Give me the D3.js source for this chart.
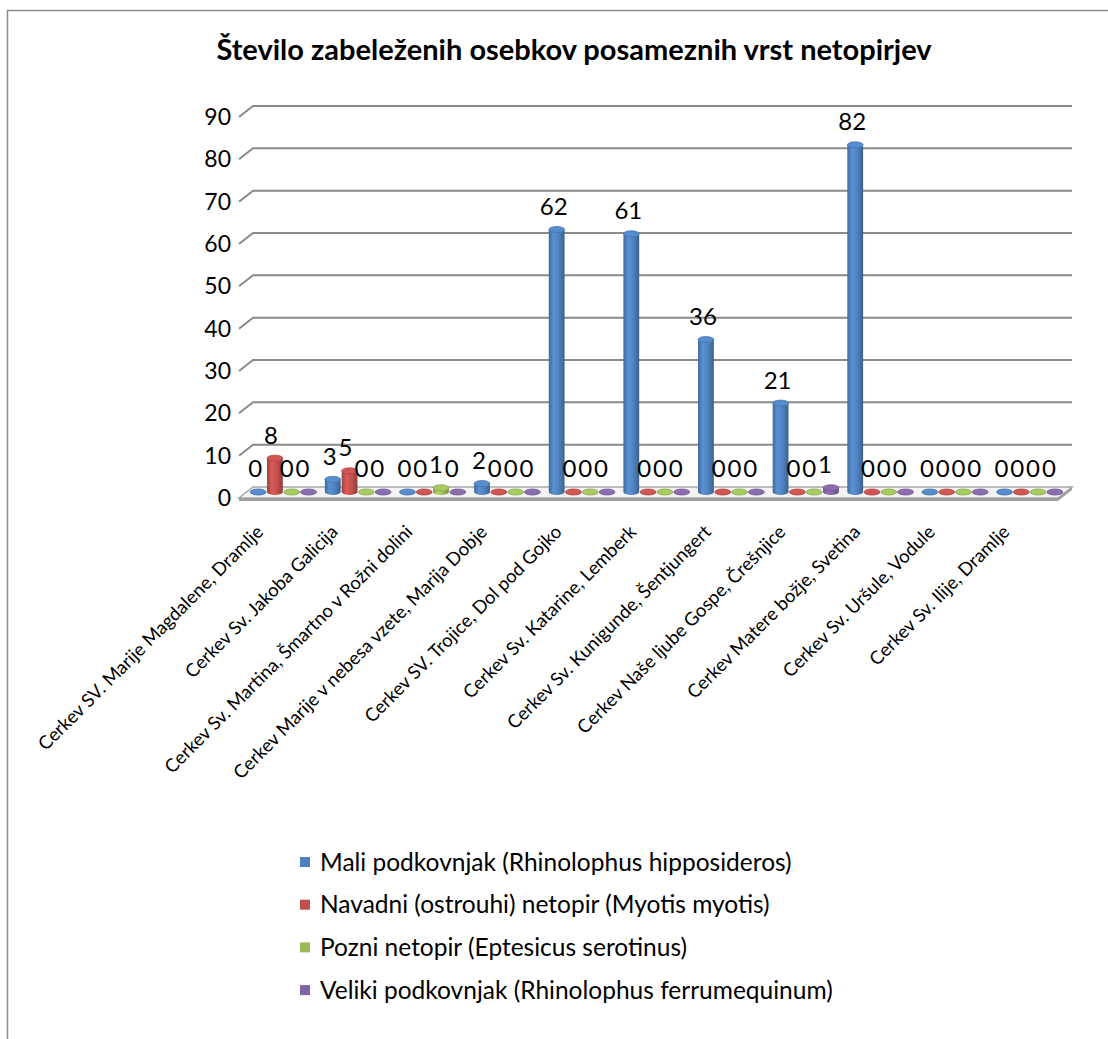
<!DOCTYPE html>
<html>
<head>
  <meta charset="utf-8">
  <title>Število zabeleženih osebkov posameznih vrst netopirjev</title>
  <script src="https://cdn.jsdelivr.net/npm/d3@7"></script>
  <style>
    body { margin: 0; background: #fff; }
    svg { display: block; font-family: Lato, "Open Sans", sans-serif; }
  </style>
</head>
<body>
  <div id="chart"></div>
  <script>
    // data
    var categories = [
      "Cerkev SV. Marije Magdalene, Dramlje",
      "Cerkev Sv. Jakoba Galicija",
      "Cerkev Sv. Martina, Šmartno v Rožni dolini",
      "Cerkev Marije v nebesa vzete, Marija Dobje",
      "Cerkev SV. Trojice, Dol pod Gojko",
      "Cerkev Sv. Katarine, Lemberk",
      "Cerkev Sv. Kunigunde, Šentjungert",
      "Cerkev Naše ljube Gospe, Črešnjice",
      "Cerkev Matere božje, Svetina",
      "Cerkev Sv. Uršule, Vodule",
      "Cerkev Sv. Ilije, Dramlje"
    ];
    var seriesNames = [
      "Mali podkovnjak (Rhinolophus hipposideros)",
      "Navadni (ostrouhi) netopir (Myotis myotis)",
      "Pozni netopir (Eptesicus serotinus)",
      "Veliki podkovnjak (Rhinolophus ferrumequinum)"
    ];
    var maliPodkovnjak   = [0, 3, 0, 2, 62, 61, 36, 21, 82, 0, 0];
    var navadniNetopir   = [8, 5, 0, 0, 0, 0, 0, 0, 0, 0, 0];
    var pozniNetopir     = [0, 0, 1, 0, 0, 0, 0, 0, 0, 0, 0];
    var velikiPodkovnjak = [0, 0, 0, 0, 0, 0, 0, 1, 0, 0, 0];
    var yTicks = [0, 10, 20, 30, 40, 50, 60, 70, 80, 90];
    var seriesColors = ["#4F81BD", "#C0504D", "#9BBB59", "#8064A2"];

    var seriesValues = [maliPodkovnjak, navadniNetopir, pozniNetopir, velikiPodkovnjak];

    var width = 1108, height = 1039;
    var depthX = 14, depthY = 11;   // fake 3d offset between back wall and front edge

    var svg = d3.select("#chart").append("svg")
      .attr("width", width)
      .attr("height", height);

    // outer chart frame (only left and top visible)
    svg.append("path")
      .attr("d", "M7.5,1039 L7.5,10.5 L1108,10.5")
      .attr("fill", "none")
      .attr("stroke", "#8c8c8c")
      .attr("stroke-width", 1.5);

    svg.append("text")
      .attr("x", 574)
      .attr("y", 60)
      .attr("text-anchor", "middle")
      .style("font-size", "29px")
      .style("font-weight", "bold")
      .text("Število zabeleženih osebkov posameznih vrst netopirjev");

    var x = d3.scaleBand()
      .domain(categories)
      .range([246, 1067])
      .paddingInner(0.1)
      .paddingOuter(0.05);

    var xs = d3.scaleBand()
      .domain(d3.range(seriesNames.length))
      .range([0, x.bandwidth()]);

    // back wall, bar base and front edge scales
    var yBack = d3.scaleLinear().domain([0, 90]).range([487, 106]);
    var yBar = d3.scaleLinear().domain([0, 90]).range([492, 111]);
    var yFront = d3.scaleLinear().domain([0, 90]).range([498, 117]);

    var wallLeft = 253, wallRight = 1072;

    // gridlines with small side-wall stroke
    var grid = svg.append("g").attr("class", "grid");
    grid.selectAll("path")
      .data(yTicks.slice(1))
      .enter().append("path")
      .attr("d", function (d) {
        var yb = yBack(d);
        return "M" + (wallLeft - depthX) + "," + (yb + depthY) + " L" + wallLeft + "," + yb + " L" + wallRight + "," + yb;
      })
      .attr("fill", "none")
      .attr("stroke", "#8a8a8a")
      .attr("stroke-width", 2);

    // floor slab
    var fy = yBack(0);
    var floor = svg.append("g").attr("class", "floor");
    floor.append("path")
      .attr("d", "M" + wallLeft + "," + fy + " L" + wallRight + "," + fy + " L" + (wallRight - depthX) + "," + (fy + depthY) +
        " L" + (wallLeft - depthX) + "," + (fy + depthY) + " Z")
      .attr("fill", "#f4f4f4")
      .attr("stroke", "#a6a6a6")
      .attr("stroke-width", 1.5);
    floor.append("path")
      .attr("d", "M" + (wallLeft - depthX) + "," + (fy + depthY) + " L" + (wallRight - depthX) + "," + (fy + depthY) +
        " L" + wallRight + "," + fy + " L" + wallRight + "," + (fy + 3) +
        " L" + (wallRight - depthX) + "," + (fy + depthY + 3) + " L" + (wallLeft - depthX) + "," + (fy + depthY + 3) + " Z")
      .attr("fill", "#a0a0a0");

    // y tick labels
    svg.append("g").selectAll("text")
      .data(yTicks)
      .enter().append("text")
      .attr("x", 231)
      .attr("y", function (d) { return yFront(d); })
      .attr("dy", "0.35em")
      .attr("text-anchor", "end")
      .style("font-size", "23px")
      .text(function (d) { return d; });

    // gradients for cylinders
    var defs = svg.append("defs");
    seriesColors.forEach(function (c, i) {
      var base = d3.color(c);
      var g = defs.append("linearGradient")
        .attr("id", "cyl" + i)
        .attr("x1", "0%").attr("x2", "100%").attr("y1", "0%").attr("y2", "0%");
      g.append("stop").attr("offset", "0%").attr("stop-color", base.darker(0.6));
      g.append("stop").attr("offset", "30%").attr("stop-color", base.brighter(0.35));
      g.append("stop").attr("offset", "65%").attr("stop-color", base);
      g.append("stop").attr("offset", "100%").attr("stop-color", base.darker(0.8));
    });

    var rows = [];
    categories.forEach(function (cat, ci) {
      seriesValues.forEach(function (vals, si) {
        rows.push({ cat: cat, s: si, v: vals[ci] });
      });
    });

    var bw = xs.bandwidth();
    var rx = bw / 2 - 0.5, ry = 3;

    var bars = svg.append("g").attr("class", "bars")
      .selectAll("g")
      .data(rows)
      .enter().append("g")
      .attr("transform", function (d) { return "translate(" + (x(d.cat) + xs(d.s) + bw / 2) + ",0)"; });

    bars.append("path")
      .attr("d", function (d) {
        var top = yBar(d.v), bot = yBar(0);
        return "M" + (-rx) + "," + top + " L" + (-rx) + "," + bot +
          " A" + rx + "," + ry + " 0 0 0 " + rx + "," + bot +
          " L" + rx + "," + top + " Z";
      })
      .attr("fill", function (d) { return "url(#cyl" + d.s + ")"; });

    bars.append("ellipse")
      .attr("cx", 0)
      .attr("cy", function (d) { return yBar(d.v); })
      .attr("rx", rx)
      .attr("ry", ry)
      .attr("fill", function (d) { return d3.color(seriesColors[d.s]).brighter(0.25); })
      .attr("stroke", function (d) { return d3.color(seriesColors[d.s]).darker(0.3); })
      .attr("stroke-width", 0.8);

    // data labels
    svg.append("g").attr("class", "labels")
      .selectAll("text")
      .data(rows)
      .enter().append("text")
      .attr("x", function (d) { return x(d.cat) + xs(d.s) + bw / 2 - 3 - d.s; })
      .attr("y", function (d) { return yBar(d.v) - 23; })
      .attr("dy", "0.35em")
      .attr("text-anchor", "middle")
      .style("font-size", "24px")
      .text(function (d) { return d.v; });

    // category labels
    svg.append("g").attr("class", "xlabels")
      .selectAll("text")
      .data(categories)
      .enter().append("text")
      .attr("transform", function (d) {
        return "translate(" + (x(d) + x.bandwidth() / 2 - 19) + "," + 533 + ") rotate(-45)";
      })
      .attr("text-anchor", "end")
      .style("font-size", "18.5px")
      .text(function (d) { return d; });

    // legend
    var legend = svg.append("g").attr("class", "legend")
      .selectAll("g")
      .data(seriesNames)
      .enter().append("g")
      .attr("transform", function (d, i) { return "translate(300," + (862 + i * 42.7) + ")"; });

    legend.append("rect")
      .attr("x", 0).attr("y", -5)
      .attr("width", 10).attr("height", 10)
      .attr("fill", function (d, i) { return seriesColors[i]; });

    legend.append("text")
      .attr("x", 20)
      .attr("dy", "0.35em")
      .style("font-size", "24.5px")
      .text(function (d) { return d; });
  </script>
</body>
</html>
